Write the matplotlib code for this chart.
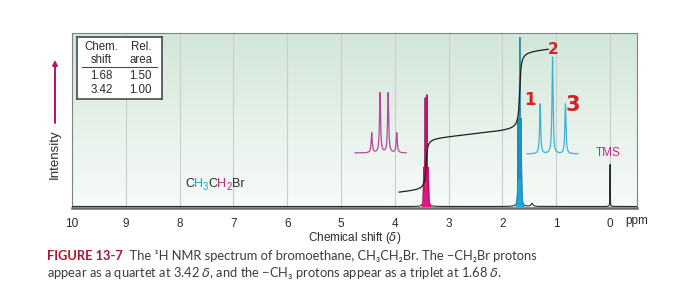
import matplotlib

matplotlib.use("Agg")
import matplotlib.pyplot as plt
import numpy as np
from matplotlib.colors import LinearSegmentedColormap


# peaks of the full spectrum: shift (ppm) and line heights
QUARTET_SHIFT = 3.42
QUARTET_HEIGHTS = [35, 104, 107, 35]
TRIPLET_SHIFT = 1.68
TRIPLET_HEIGHTS = [82, 164, 82]
TMS_SHIFT = 0.0
TMS_HEIGHT = 42
MINOR_SHIFTS = [1.45]
MINOR_HEIGHTS = [3]
J_MAIN = 0.028

# expanded multiplets drawn above the peaks
QUARTET_INSET_LINES = [4.43, 4.275, 4.125, 3.965]
QUARTET_INSET_HEIGHTS = [20, 60, 60, 20]
TRIPLET_INSET_LINES = [1.30, 1.07, 0.83]
TRIPLET_INSET_HEIGHTS = [50, 97, 50]

# integral trace
INTEGRAL_START = 13.5
INTEGRAL_STEPS = [52, 79]
INTEGRAL_DRIFT = 5.0

# table
TABLE_SHIFTS = ["1.68", "3.42"]
TABLE_AREAS = ["1.50", "1.00"]

X_TICKS = list(range(10, -1, -1))

W, H = 690, 307
DARK = "#2b2b2b"
MAGENTA = "#e5157f"
CYAN = "#1aa7dc"
INSET_MAGENTA = "#b5489a"
INSET_CYAN = "#3eb2d6"
LABEL_MAGENTA = "#c2287f"
RED = "#d61f26"
TEXT_FONT = ["Liberation Sans", "DejaVu Sans"]
CAPTION_FONT = ["Lato", "DejaVu Sans"]


def lorentz(x, centers, heights, hw):
    y = np.zeros_like(x)
    for c, h in zip(centers, heights):
        y += h / (1.0 + ((x - c) / hw) ** 2)
    return y


def place_pieces(fig, x_px, y_px, pieces, **kw):
    # pieces: (text, color, fontsize, extra options, baseline shift in px)
    renderer = fig.canvas.get_renderer()
    for s, color, size, extra, dy in pieces:
        t = fig.text(x_px / W, (y_px + dy) / H, s, color=color, fontsize=size,
                     ha="left", va="baseline", **kw, **extra)
        x_px += t.get_window_extent(renderer).width


fig = plt.figure(figsize=(6.9, 3.07), dpi=100)
ax = fig.add_axes([72 / W, (H - 208) / H, 565 / W, 175 / H])
ax.set_xlim(10, -0.5)
ax.set_ylim(-1.5, 173.5)

# background gradient
cmap = LinearSegmentedColormap.from_list("bg", ["#f8fbf9", "#d2e6d9"])
grad = np.linspace(0, 1, 256).reshape(-1, 1)
ax.imshow(grad, extent=[10, -0.5, -1.5, 173.5], origin="lower", aspect="auto",
          cmap=cmap, zorder=0)

ax.set_xticks(X_TICKS)
ax.set_xticklabels([str(t) for t in X_TICKS], fontsize=8.5, family=TEXT_FONT, color=DARK)
ax.set_yticks([])
ax.tick_params(axis="x", length=0, pad=7)
ax.grid(axis="x", color="#c6d0ca", linewidth=0.8, zorder=1)
for side in ["top", "left", "right"]:
    ax.spines[side].set_color("#7d8782")
    ax.spines[side].set_linewidth(0.8)
ax.spines["bottom"].set_color("#6a6a6a")
ax.spines["bottom"].set_linewidth(1.8)

# full spectrum
x = np.linspace(-0.5, 10, 60000)
q_lines = QUARTET_SHIFT + J_MAIN * np.array([1.5, 0.5, -0.5, -1.5])
t_lines = TRIPLET_SHIFT + J_MAIN * np.array([1, 0, -1])
quartet = lorentz(x, q_lines, QUARTET_HEIGHTS, 0.005)
triplet = lorentz(x, t_lines, TRIPLET_HEIGHTS, 0.005)
tms = lorentz(x, [TMS_SHIFT], [TMS_HEIGHT], 0.003)
minor = lorentz(x, MINOR_SHIFTS, MINOR_HEIGHTS, 0.02)
total = quartet + triplet + tms + minor

ax.plot(x, total, color=DARK, linewidth=0.8, zorder=3)
qm = np.abs(x - QUARTET_SHIFT) < 0.09
tm = np.abs(x - TRIPLET_SHIFT) < 0.08
ax.fill_between(x[qm], 0, total[qm], color=MAGENTA, linewidth=0, zorder=4)
ax.plot(x[qm], total[qm], color="#c80f6c", linewidth=0.8, zorder=5)
ax.fill_between(x[tm], 0, total[tm], color=CYAN, linewidth=0, zorder=4)
ax.plot(x[tm], total[tm], color="#1592c6", linewidth=0.8, zorder=5)

# expanded multiplets
xq = np.linspace(4.74, 3.79, 800)
ax.plot(xq, 53.5 + lorentz(xq, QUARTET_INSET_LINES, QUARTET_INSET_HEIGHTS, 0.012),
        color=INSET_MAGENTA, linewidth=0.9, zorder=3)
xt = np.linspace(1.54, 0.60, 800)
ax.plot(xt, 52.5 + lorentz(xt, TRIPLET_INSET_LINES, TRIPLET_INSET_HEIGHTS, 0.012),
        color=INSET_CYAN, linewidth=0.9, zorder=3)

# integral
xi = np.linspace(3.92, 1.15, 3000)
yi = INTEGRAL_START + INTEGRAL_DRIFT * (3.92 - xi)
for c, h in zip([QUARTET_SHIFT, TRIPLET_SHIFT], INTEGRAL_STEPS):
    yi += h * (0.5 + np.arctan((c - xi) / 0.02) / np.pi)
ax.plot(xi, yi, color="#1e1e1e", linewidth=0.9, zorder=6)

# labels inside plot
ax.text(0.03, 53.5, "TMS", color=LABEL_MAGENTA, fontsize=8.5, family=TEXT_FONT,
        ha="center", va="center", zorder=7)
ax.text(1.06, 156.5, "2", color=RED, fontsize=11, fontweight="bold",
        ha="center", va="center", zorder=7)
ax.text(1.49, 106.5, "1", color=RED, fontsize=12, fontweight="bold",
        ha="center", va="center", zorder=7)
ax.text(0.69, 101.5, "3", color=RED, fontsize=15, fontweight="bold",
        ha="center", va="center", zorder=7)

ax.text((625 - 72) / 565, -0.074, "ppm", transform=ax.transAxes, fontsize=8.5,
        family=TEXT_FONT, color=DARK, ha="left", va="center")
ax.set_xlabel("Chemical shift ($\\delta$)", fontsize=8.5, family=TEXT_FONT, color=DARK,
              labelpad=0)

# table
tab = fig.add_axes([77 / W, (H - 99) / H, 85 / W, 62 / H])
tab.set_xlim(0, 1)
tab.set_ylim(0, 1)
tab.set_xticks([])
tab.set_yticks([])
tab.set_facecolor("white")
for s in tab.spines.values():
    s.set_color("#4a4a4a")
    s.set_linewidth(1.2)
tab.text(0.29, 0.74, "Chem.\nshift", ha="center", va="center", fontsize=8.3,
         family=TEXT_FONT, color=DARK, linespacing=1.1)
tab.text(0.75, 0.74, "Rel.\narea", ha="center", va="center", fontsize=8.3,
         family=TEXT_FONT, color=DARK, linespacing=1.1)
tab.plot([0.06, 0.94], [0.516, 0.516], color="#4a4a4a", linewidth=0.8)
for i, (sh, ar) in enumerate(zip(TABLE_SHIFTS, TABLE_AREAS)):
    yy = 0.37 - i * 0.225
    tab.text(0.29, yy, sh, ha="center", va="center", fontsize=8.3, family=TEXT_FONT, color=DARK)
    tab.text(0.75, yy, ar, ha="center", va="center", fontsize=8.3, family=TEXT_FONT, color=DARK)

# intensity arrow
ax.annotate("", xy=(55, 247), xytext=(55, 184), xycoords="figure pixels",
            textcoords="figure pixels", annotation_clip=False,
            arrowprops=dict(arrowstyle="-|>", color="#b3106f", lw=1.4,
                            mutation_scale=7, shrinkA=0, shrinkB=0))
fig.text(55 / W, 153 / H, "Intensity", rotation=90, ha="center", va="center",
         fontsize=9.5, family=TEXT_FONT, color=DARK)

# formula label with coloured hydrogens
place_pieces(fig, 185, H - 187,
             [("C", DARK, 9, {}, 0), ("H", CYAN, 9, {}, 0), ("3", CYAN, 7, {}, -2.5),
              ("C", DARK, 9, {}, 0), ("H", LABEL_MAGENTA, 9, {}, 0),
              ("2", LABEL_MAGENTA, 7, {}, -2.5), ("Br", DARK, 9, {}, 0)],
             family=TEXT_FONT, zorder=7)

# caption
cap_grey = "#3c3c3c"
place_pieces(fig, 47, H - 260,
             [("FIGURE 13-7", "#a8172f", 9.3, {"fontweight": "bold"}, 0),
              ("  The ¹H NMR spectrum of bromoethane, CH₃CH₂Br. The −CH₂Br protons",
               cap_grey, 9.3, {}, 0)],
             family=CAPTION_FONT)
fig.text(47 / W, (H - 277) / H,
         "appear as a quartet at 3.42 $\\delta$, and the −CH₃ protons appear as a triplet at 1.68 $\\delta$.",
         fontsize=9.3, family=CAPTION_FONT, color=cap_grey, ha="left", va="baseline")

fig.savefig("out.png", dpi=100)
plt.close(fig)
